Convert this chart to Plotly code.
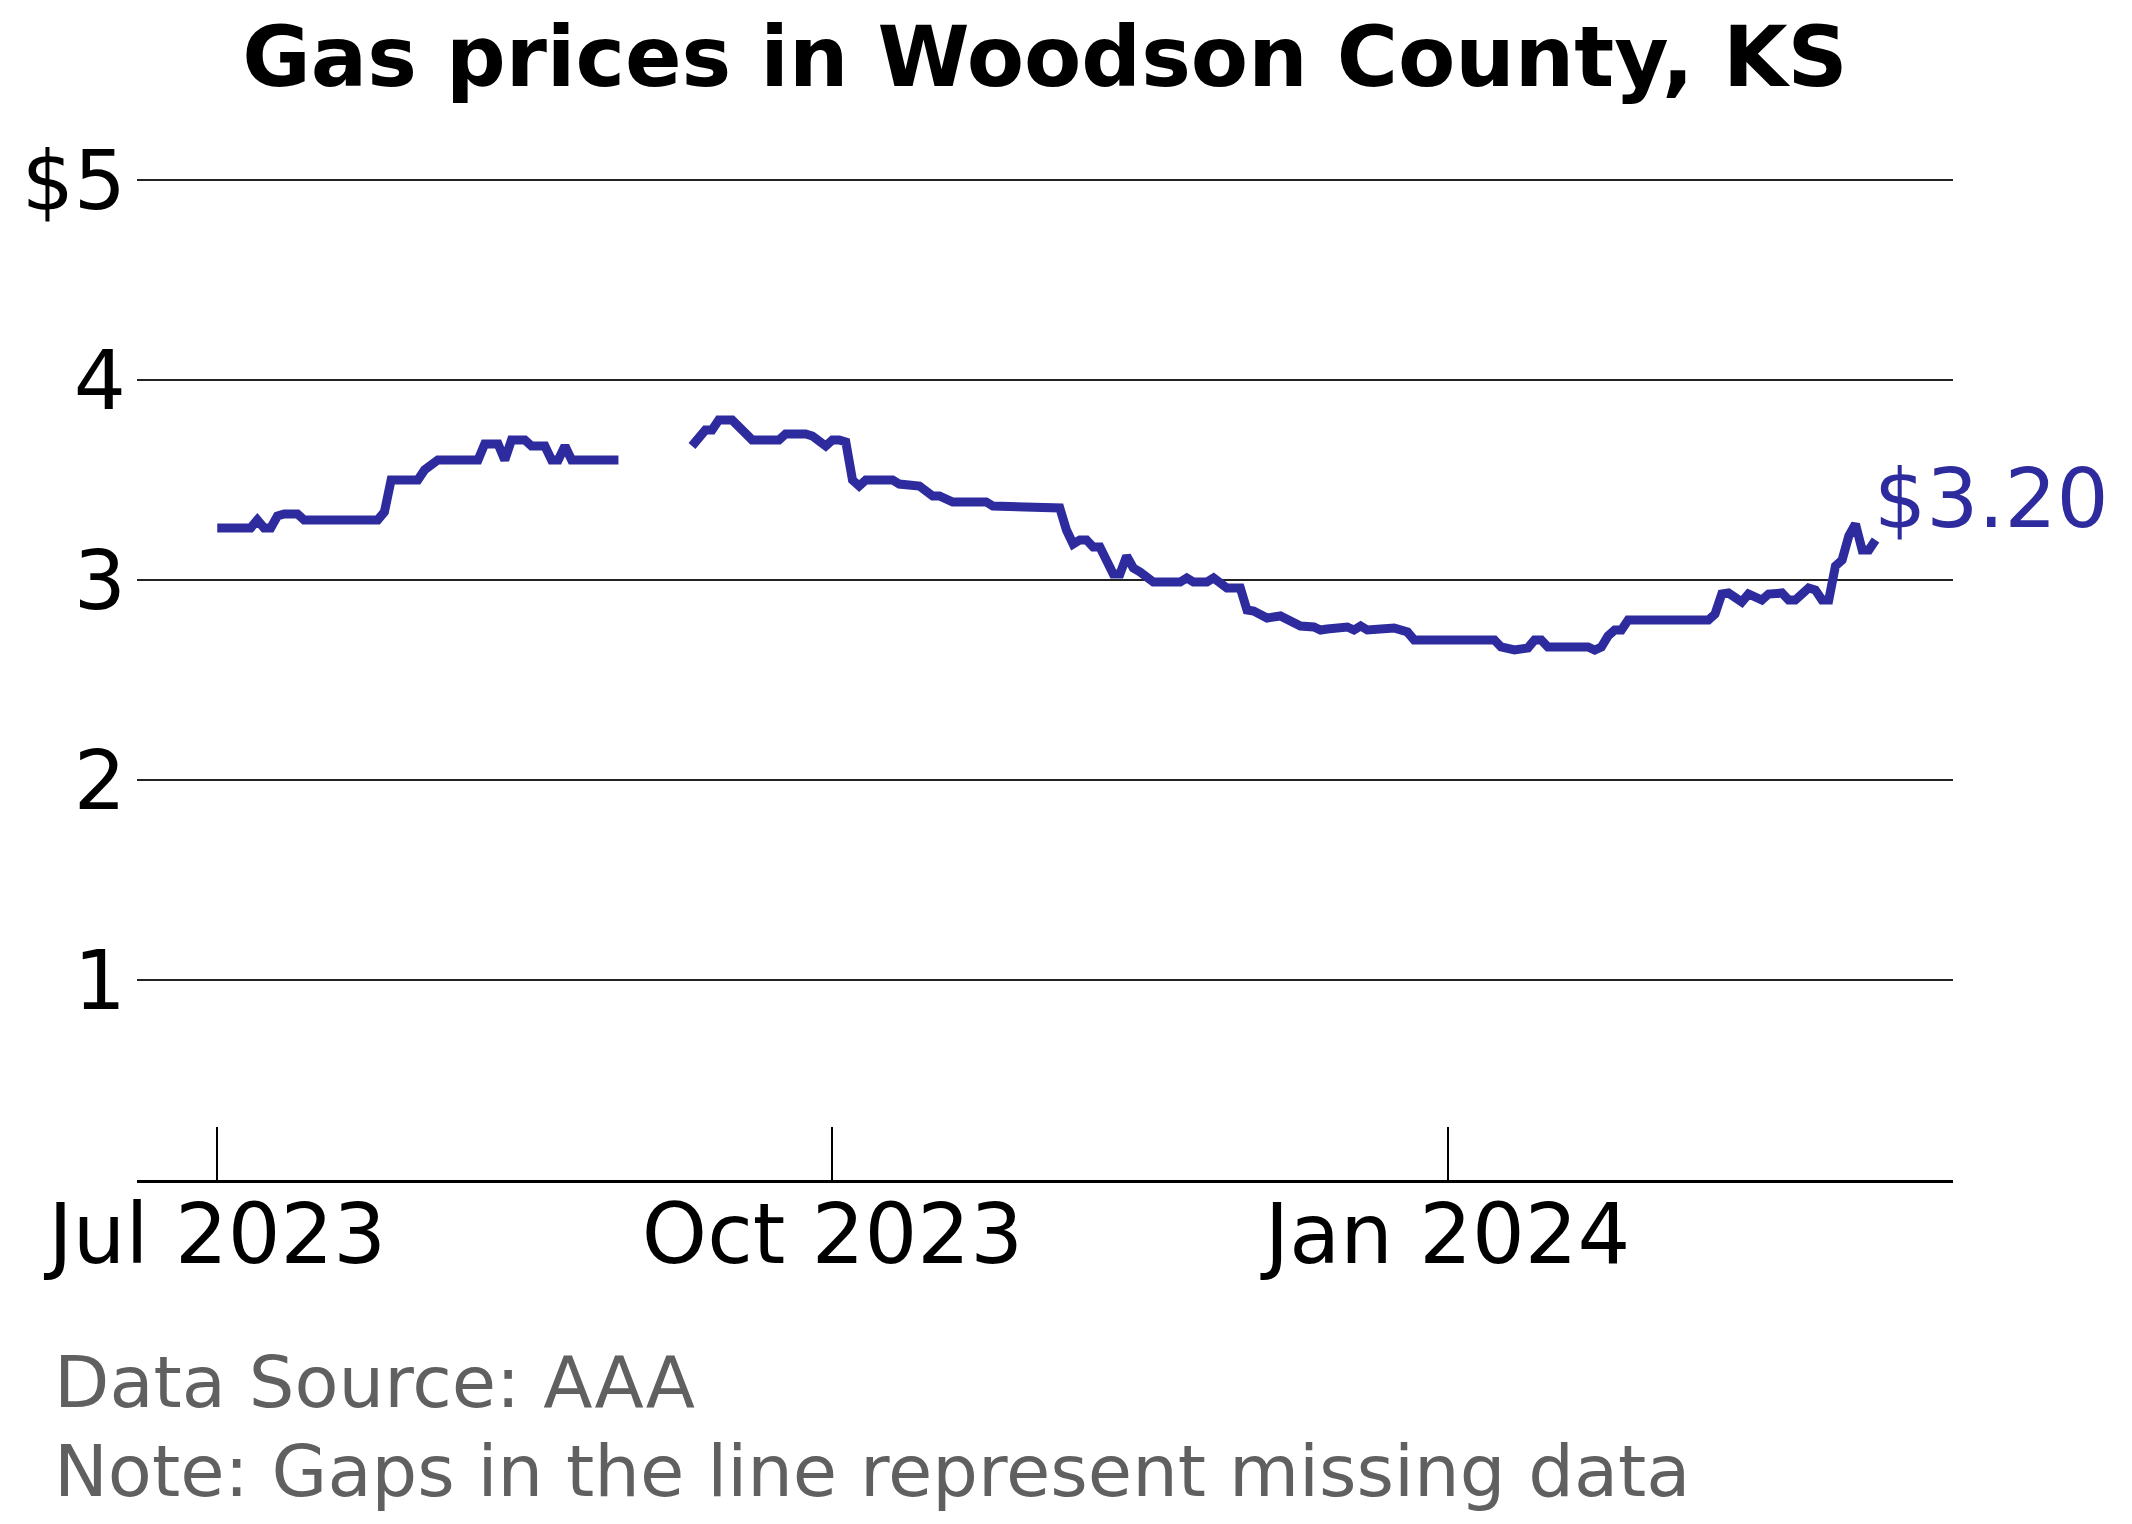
import plotly.graph_objects as go

# daily regular gas price, Woodson County KS (only the points where the price moves)
dates = [
    "2023-07-01", "2023-07-03", "2023-07-04", "2023-07-05", "2023-07-06", "2023-07-07",
    "2023-07-08", "2023-07-09", "2023-07-10", "2023-07-11", "2023-07-13", "2023-07-14",
    "2023-07-25", "2023-07-26", "2023-07-27", "2023-07-31", "2023-08-01", "2023-08-03",
    "2023-08-09", "2023-08-10", "2023-08-12", "2023-08-13", "2023-08-14", "2023-08-16",
    "2023-08-17", "2023-08-19", "2023-08-20", "2023-08-21", "2023-08-22", "2023-08-23",
    "2023-08-30",
    "2023-09-05",  # missing data
    "2023-09-10", "2023-09-11", "2023-09-12", "2023-09-13", "2023-09-14", "2023-09-16",
    "2023-09-19", "2023-09-23", "2023-09-24", "2023-09-27", "2023-09-28", "2023-09-30",
    "2023-10-01", "2023-10-02", "2023-10-03", "2023-10-04", "2023-10-05", "2023-10-06",
    "2023-10-10", "2023-10-11", "2023-10-13", "2023-10-14", "2023-10-16", "2023-10-17",
    "2023-10-19", "2023-10-20", "2023-10-21", "2023-10-22", "2023-10-24", "2023-10-25",
    "2023-10-27", "2023-10-28", "2023-11-04", "2023-11-05", "2023-11-06", "2023-11-07",
    "2023-11-08", "2023-11-09", "2023-11-10", "2023-11-12", "2023-11-13", "2023-11-14",
    "2023-11-15", "2023-11-16", "2023-11-17", "2023-11-18", "2023-11-22", "2023-11-23",
    "2023-11-24", "2023-11-26", "2023-11-27", "2023-11-29", "2023-12-01", "2023-12-02",
    "2023-12-03", "2023-12-05", "2023-12-07", "2023-12-08", "2023-12-10", "2023-12-12",
    "2023-12-13", "2023-12-14", "2023-12-16", "2023-12-17", "2023-12-18", "2023-12-19",
    "2023-12-20", "2023-12-22", "2023-12-24", "2023-12-26", "2023-12-27", "2023-12-29",
    "2024-01-08", "2024-01-09", "2024-01-10", "2024-01-11", "2024-01-13", "2024-01-14",
    "2024-01-15", "2024-01-16", "2024-01-22", "2024-01-23", "2024-01-24", "2024-01-25",
    "2024-01-26", "2024-01-27", "2024-01-28", "2024-02-09", "2024-02-10", "2024-02-11",
    "2024-02-12", "2024-02-14", "2024-02-15", "2024-02-17", "2024-02-18", "2024-02-20",
    "2024-02-21", "2024-02-22", "2024-02-24", "2024-02-25", "2024-02-26", "2024-02-27",
    "2024-02-28", "2024-02-29", "2024-03-01", "2024-03-02", "2024-03-03", "2024-03-04",
    "2024-03-05",
]
prices = [
    3.26, 3.26, 3.25, 3.25, 3.26, 3.30,
    3.26, 3.26, 3.32, 3.33, 3.33, 3.30,
    3.30, 3.34, 3.50, 3.50, 3.55, 3.60,
    3.60, 3.68, 3.68, 3.60, 3.70, 3.70,
    3.67, 3.67, 3.60, 3.60, 3.67, 3.60,
    3.60,
    None,
    3.67, 3.72, 3.75, 3.75, 3.80, 3.80,
    3.70, 3.70, 3.73, 3.73, 3.72, 3.67,
    3.70, 3.70, 3.69, 3.50, 3.47, 3.50,
    3.50, 3.48, 3.48, 3.47, 3.42, 3.42,
    3.39, 3.39, 3.40, 3.39, 3.39, 3.37,
    3.37, 3.36, 3.36, 3.25, 3.18, 3.20,
    3.20, 3.165, 3.165, 3.03, 3.03, 3.12,
    3.06, 3.04, 3.02, 2.99, 2.99, 3.01,
    2.99, 2.99, 3.01, 2.96, 2.96, 2.85,
    2.845, 2.81, 2.82, 2.80, 2.77, 2.765,
    2.75, 2.755, 2.765, 2.765, 2.75, 2.77,
    2.75, 2.75, 2.76, 2.74, 2.70, 2.70,
    2.70, 2.665, 2.66, 2.65, 2.66, 2.70,
    2.70, 2.665, 2.665, 2.65, 2.665, 2.72,
    2.75, 2.75, 2.80, 2.80, 2.83, 2.93,
    2.935, 2.89, 2.93, 2.90, 2.93, 2.935,
    2.90, 2.90, 2.96, 2.95, 2.90, 2.90,
    3.07, 3.10, 3.22, 3.28, 3.15, 3.15,
    3.20,
]

y_ticks = [1, 2, 3, 4, 5]
y_labels = ["1", "2", "3", "4", "$5"]

blue = "#2e2b9e"
grey = "#606060"
font = "DejaVu Sans"

fig = go.Figure()
fig.add_trace(go.Scatter(x=dates, y=prices, mode="lines", connectgaps=False,
                         line=dict(color=blue, width=9), hoverinfo="skip"))

# latest price label at the end of the line
fig.add_annotation(x=dates[-1], y=prices[-1], text=f"${prices[-1]:.2f}",
                   xanchor="left", yanchor="middle", xshift=-4, yshift=42,
                   showarrow=False, font=dict(family=font, size=82, color=blue))

fig.add_annotation(x=-0.047, y=-0.1946, xref="paper", yref="paper",
                   text="Data Source: AAA", xanchor="left", yanchor="middle",
                   showarrow=False, font=dict(family=font, size=72, color=grey))
fig.add_annotation(x=-0.047, y=-0.2796, xref="paper", yref="paper",
                   text="Note: Gaps in the line represent missing data",
                   xanchor="left", yanchor="middle",
                   showarrow=False, font=dict(family=font, size=72, color=grey))

fig.update_layout(
    width=2132, height=1524,
    margin=dict(l=129, r=187, t=132, b=352),
    plot_bgcolor="white", paper_bgcolor="white",
    showlegend=False,
    font=dict(family=font, color="black"),
    title=dict(text="<b>Gas prices in Woodson County, KS</b>", x=0.5, xref="paper",
               y=0.987, yref="container", yanchor="top",
               font=dict(family=font, size=83.5, color="black")),
)
fig.update_xaxes(range=["2023-06-19", "2024-03-16 14:00"], tick0="2023-07-01", dtick="M3",
                 tickformat="%b %Y", showgrid=False, zeroline=False,
                 showline=True, linecolor="black", linewidth=3,
                 ticks="inside", ticklen=53, tickwidth=2, tickcolor="black",
                 ticklabelstandoff=-20, tickfont=dict(family=font, size=83, color="black"))
fig.update_yaxes(range=[0, 5.2], tickvals=y_ticks, ticktext=y_labels,
                 showgrid=True, gridcolor="#222222", gridwidth=1.5, zeroline=False,
                 showline=False, ticks="", ticklabelstandoff=10,
                 tickfont=dict(family=font, size=82, color="black"))

fig.write_html("out.html")
